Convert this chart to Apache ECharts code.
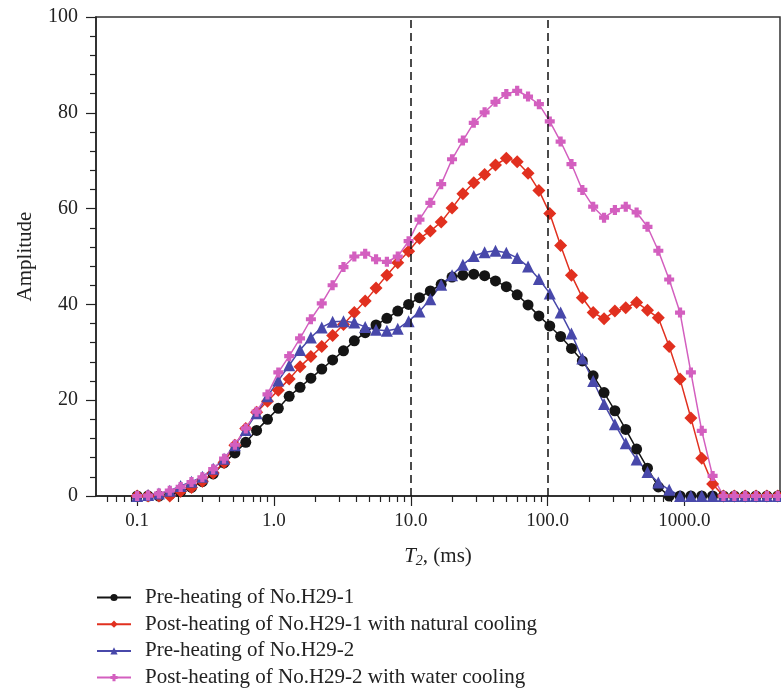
<!DOCTYPE html>
<html>
<head>
<meta charset="utf-8">
<script src="https://cdn.jsdelivr.net/npm/echarts@6/dist/echarts.min.js"></script>
<style>
html,body{margin:0;padding:0;background:#fff;}
#chart{width:781px;height:688px;}
</style>
</head>
<body>
<div id="chart"></div>
<script>
// T2 relaxation times (ms)
var t2 = [0.1,0.1201,0.1442,0.1731,0.2078,0.2495,0.2996,0.3594,0.4315,0.5180,
  0.6219,0.7465,0.8963,1.0759,1.2916,1.5509,1.8614,2.2352,2.6827,3.2212,
  3.8663,4.6416,5.5719,6.6892,8.0316,9.6412,11.575,13.895,16.681,20.026,
  24.044,28.863,34.652,41.600,49.939,59.948,71.969,86.407,103.72,124.53,
  149.48,179.48,215.44,258.65,310.52,372.76,447.54,537.29,645.01,774.26,
  929.48,1115.8,1339.6,1608.2,1930.7,2318.0,2782.6,3340.5,4010.1,4814.1];

var seriesNames = [
  'Pre-heating of No.H29-1',
  'Post-heating of No.H29-1 with natural cooling',
  'Pre-heating of No.H29-2',
  'Post-heating of No.H29-2 with water cooling'
];

var preH291 = [0,0,0,0.3,0.9,1.8,3.0,4.6,6.9,9.0,11.2,13.7,16.0,18.3,20.8,22.7,24.6,26.5,28.4,30.3,
  32.4,34.1,35.7,37.1,38.6,40.0,41.4,42.8,44.2,45.7,46.1,46.3,46.0,44.9,43.7,42.0,39.9,37.6,35.5,33.3,
  30.8,28.2,25.1,21.6,17.8,13.9,9.8,5.8,1.9,0,0,0,0,0,0,0,0,0,0,0];

var postH291 = [0,0,0,0,1.0,1.8,3.1,4.8,7.0,10.6,14.1,17.5,19.8,22.1,24.4,27.0,29.1,31.2,33.5,35.8,
  38.3,40.7,43.4,46.1,48.7,51.1,53.8,55.3,57.2,60.1,63.1,65.4,67.1,69.1,70.5,69.8,67.4,63.8,59.0,52.3,
  46.1,41.4,38.3,37.0,38.6,39.3,40.4,38.8,37.2,31.2,24.4,16.3,7.9,2.5,0,0,0,0,0,0];

var preH292 = [0,0.2,0.5,1.1,2.1,3.0,4.0,5.7,7.8,10.6,13.8,17.3,20.8,24.1,27.3,30.5,33.1,35.2,36.4,36.5,
  36.2,35.3,34.7,34.5,34.9,36.5,38.5,41.1,44.1,46.1,48.3,50.1,50.9,51.2,50.8,49.7,47.9,45.3,42.3,38.3,
  33.9,28.7,24.0,19.2,15.0,11.0,7.6,5.0,2.8,1.3,0,0,0,0,0,0,0,0,0,0];

var postH292 = [0,0.1,0.5,1.1,1.9,2.9,3.9,5.6,7.8,10.7,14.1,17.6,21.2,25.8,29.2,32.9,36.9,40.2,44.0,47.8,
  50.0,50.6,49.4,48.9,50.0,53.2,57.7,61.2,65.1,70.3,74.2,77.9,80.1,82.3,83.9,84.6,83.4,81.8,78.2,74.0,
  69.3,63.9,60.4,58.1,59.7,60.4,59.2,56.2,51.2,45.2,38.3,25.8,13.6,4.2,0,0,0,0,0,0];

var xMajorTicks = [0.1,1,10,100,1000];
var xMinorTicks = [0.06,0.07,0.08,0.09,0.2,0.3,0.4,0.5,0.6,0.7,0.8,0.9,2,3,4,5,6,7,8,9,
  20,30,40,50,60,70,80,90,200,300,400,500,600,700,800,900,2000,3000,4000];
var dashedAt = [10,100];

function pairs(ys){ return ys.map(function(v,i){ return [t2[i], v]; }); }

var FONT = 'Liberation Serif';
var colors = ['#151515','#e1301f','#4848aa','#d35fbf'];
var symbols = ['circle','diamond','triangle','path://M2.6,0H6.4V2.6H9V6.4H6.4V9H2.6V6.4H0V2.6H2.6Z'];
var sizes = [11,13,12,10];
var datasets = [preH291, postH291, preH292, postH292];

var series = datasets.map(function(d, k){
  var s = {
    name: seriesNames[k],
    type: 'line',
    data: pairs(d),
    xAxisIndex: 0,
    symbol: symbols[k],
    symbolSize: sizes[k],
    showAllSymbol: true,
    lineStyle: {color: colors[k], width: 1.5},
    itemStyle: {color: colors[k]},
    emphasis: {disabled: true},
    animation: false
  };
  if (k === 0) {
    s.markLine = {
      silent: true,
      symbol: ['none','none'],
      label: {show: false},
      lineStyle: {color: '#111', type: [8,5], width: 1.5},
      data: dashedAt.map(function(v){ return {xAxis: v}; })
    };
  }
  return s;
});

var chart = echarts.init(document.getElementById('chart'));
chart.setOption({
  animation: false,
  backgroundColor: '#fff',
  textStyle: {fontFamily: FONT},
  grid: {left: 96, top: 17, right: 1, bottom: 192, show: true, borderColor: '#333', borderWidth: 1.5},
  legend: {
    orient: 'vertical',
    left: 96,
    top: 587,
    height: 160,
    padding: 0,
    itemWidth: 34,
    itemHeight: 9,
    itemGap: 5.7,
    data: seriesNames,
    textStyle: {fontFamily: FONT, fontSize: 21, color: '#222', lineHeight: 20, padding: [0,0,0,9]}
  },
  xAxis: [{
    type: 'log',
    logBase: 10,
    min: 0.05,
    max: 5000,
    name: '{i|T}{s|2}{n|, (ms)}',
    nameLocation: 'middle',
    nameGap: 48,
    nameTextStyle: {
      rich: {
        i: {fontFamily: FONT, fontSize: 21, fontStyle: 'italic', color: '#222'},
        s: {fontFamily: FONT, fontSize: 14, fontStyle: 'italic', color: '#222', verticalAlign: 'bottom', padding: [10,0,0,0]},
        n: {fontFamily: FONT, fontSize: 21, color: '#222'}
      }
    },
    axisLine: {show: true, lineStyle: {color: '#222', width: 1.5}},
    axisTick: {show: true, length: 10, customValues: xMajorTicks, lineStyle: {color: '#222', width: 1.2}},
    axisLabel: {
      customValues: xMajorTicks,
      margin: 16,
      fontFamily: FONT,
      fontSize: 19,
      color: '#222',
      formatter: function(v){ return Number(v).toFixed(1); }
    },
    splitLine: {show: false}
  }, {
    type: 'log',
    logBase: 10,
    min: 0.05,
    max: 5000,
    position: 'bottom',
    axisLine: {show: false},
    axisTick: {show: true, length: 6, customValues: xMinorTicks, lineStyle: {color: '#222', width: 1.2}},
    axisLabel: {show: false},
    splitLine: {show: false}
  }],
  yAxis: {
    type: 'value',
    min: 0,
    max: 100,
    interval: 20,
    name: 'Amplitude',
    nameLocation: 'middle',
    nameGap: 60,
    nameTextStyle: {fontFamily: FONT, fontSize: 21, color: '#222'},
    axisLine: {show: true, lineStyle: {color: '#222', width: 1.5}},
    axisTick: {show: true, length: 10, lineStyle: {color: '#222', width: 1.2}},
    minorTick: {show: true, splitNumber: 5, length: 6, lineStyle: {color: '#222', width: 1.2}},
    axisLabel: {margin: 18, fontFamily: FONT, fontSize: 20, color: '#222'},
    splitLine: {show: false},
    minorSplitLine: {show: false}
  },
  series: series
});
</script>
</body>
</html>
